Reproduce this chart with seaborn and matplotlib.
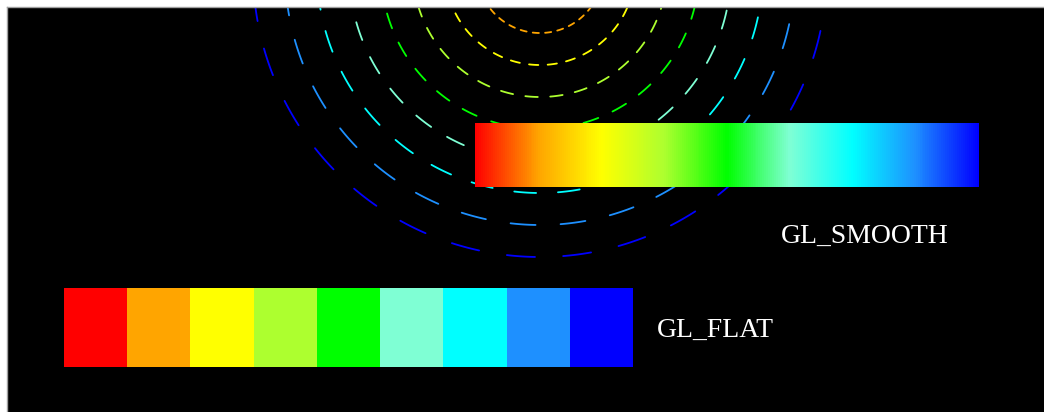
import numpy as np
import pandas as pd
import matplotlib.pyplot as plt
from matplotlib.colors import ListedColormap, LinearSegmentedColormap
import seaborn as sns

sns.set_style('white')

# --- data ---
band_colors = ['#FF0000', '#FFA500', '#FFFF00', '#ADFF2F', '#00FF00',
               '#7FFFD4', '#00FFFF', '#1E90FF', '#0000FF']
ring_radii = [31, 63, 95, 127, 159, 191, 223, 255, 287]
ring_center = (540, -30)
n_dashes = 32          # dashes per ring (stippled in equal angular steps)
dash_phase_deg = 1.0
labels = ['GL_SMOOTH', 'GL_FLAT']

W, H = 1044, 412
fig = plt.figure(figsize=(W / 100, H / 100), dpi=100, facecolor='white')


def px_axes(x0, y0, x1, y1):
    # axes placed by pixel box (top-left origin)
    return fig.add_axes([x0 / W, 1 - y1 / H, (x1 - x0) / W, (y1 - y0) / H])


# main black canvas, pixel coordinates
ax = px_axes(7, 7, W, H)
ax.set_facecolor('black')
for side, sp in ax.spines.items():
    sp.set_visible(side in ('left', 'top'))
    sp.set_color('#a0a0a0')
    sp.set_linewidth(1)

# dashed concentric rings: each dash covers half of one angular step
step = 2 * np.pi / n_dashes
rows = []
for i, r in enumerate(ring_radii):
    for k in range(n_dashes):
        a0 = np.deg2rad(dash_phase_deg) + k * step
        t = np.linspace(a0, a0 + step / 2, 12)
        rows.append(pd.DataFrame({'x': ring_center[0] + r * np.cos(t),
                                  'y': ring_center[1] + r * np.sin(t),
                                  'ring': i, 'dash': k}))
rings = pd.concat(rows, ignore_index=True)
sns.lineplot(data=rings, x='x', y='y', hue='ring', units='dash',
             palette=band_colors, sort=False, estimator=None, legend=False,
             ax=ax, linewidth=1.3)
ax.set_xlabel('')
ax.set_ylabel('')
ax.set_xticks([])
ax.set_yticks([])
ax.set_xlim(7, W)
ax.set_ylim(H, 7)

# labels
ax.text(781, 243, labels[0], color='white', fontsize=20,
        family='Liberation Serif', ha='left', va='baseline')
ax.text(657, 337, labels[1], color='white', fontsize=20,
        family='Liberation Serif', ha='left', va='baseline')

# smooth gradient bar
ax_s = px_axes(475, 123, 979, 187)
smooth_cmap = LinearSegmentedColormap.from_list('smooth', band_colors)
sns.heatmap(np.linspace(0, 1, 504)[None, :], cmap=smooth_cmap, cbar=False,
            xticklabels=False, yticklabels=False, ax=ax_s, vmin=0, vmax=1)

# flat bar: one cell per colour
ax_f = px_axes(64, 288, 633, 367)
flat_cmap = ListedColormap(band_colors)
sns.heatmap(np.arange(len(band_colors))[None, :], cmap=flat_cmap, cbar=False,
            xticklabels=False, yticklabels=False, ax=ax_f,
            vmin=-0.5, vmax=len(band_colors) - 0.5)

plt.savefig('out.png', dpi=100, facecolor='white')
